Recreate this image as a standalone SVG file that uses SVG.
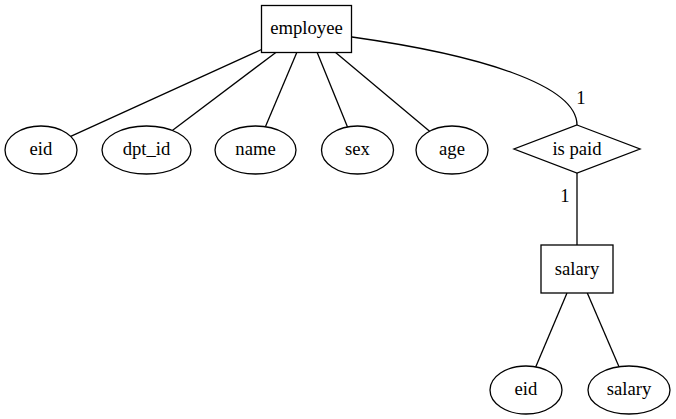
<svg xmlns="http://www.w3.org/2000/svg" width="676" height="419" viewBox="0 0 676 419">
<style>
.s{fill:none;stroke:#000;stroke-width:1.3}
.n{fill:#fff;stroke:#000;stroke-width:1.3}
text{font-family:"Liberation Serif","Times New Roman",serif;font-size:18.67px;fill:#000;text-anchor:middle}
</style>
<rect width="676" height="419" fill="#fff"/>
<g id="edges">
<path class="s" d="M261.5,49.5 L70.7,136.4"/>
<path class="s" d="M276.5,52 L172.3,130.4"/>
<path class="s" d="M297,52 L265.4,126.7"/>
<path class="s" d="M317,52 L347.5,126.9"/>
<path class="s" d="M335,52 L429.6,131.2"/>
<path class="s" d="M352,37 C480,55 577,85 577,125"/>
<path class="s" d="M577,173 L577,245"/>
<path class="s" d="M567,293 L535.7,366.9"/>
<path class="s" d="M587.3,293 L619,366.7"/>
<text x="581" y="104">1</text>
<text x="565" y="202">1</text>
</g>
<g id="employee"><rect class="n" x="261.5" y="5.5" width="90" height="47"/><text x="306.5" y="34">employee</text></g>
<g id="eid"><ellipse class="n" cx="41" cy="150" rx="36" ry="24"/><text x="41" y="155">eid</text></g>
<g id="dpt_id"><ellipse class="n" cx="146.5" cy="150" rx="44.5" ry="24"/><text x="146.5" y="155">dpt_id</text></g>
<g id="name"><ellipse class="n" cx="255.5" cy="150" rx="40.5" ry="24"/><text x="255.5" y="155">name</text></g>
<g id="sex"><ellipse class="n" cx="357.5" cy="150" rx="36" ry="24"/><text x="357.5" y="155">sex</text></g>
<g id="age"><ellipse class="n" cx="452" cy="150" rx="36" ry="24"/><text x="452" y="155">age</text></g>
<g id="is_paid"><polygon class="n" points="577,125 640,149 577,173 514,149"/><text x="577" y="155">is paid</text></g>
<g id="salary"><rect class="n" x="541" y="245" width="72" height="48"/><text x="577" y="275">salary</text></g>
<g id="eid2"><ellipse class="n" cx="526" cy="390" rx="36" ry="24"/><text x="526" y="395">eid</text></g>
<g id="salary_attr"><ellipse class="n" cx="629" cy="390" rx="41" ry="24"/><text x="629" y="395">salary</text></g>
</svg>
